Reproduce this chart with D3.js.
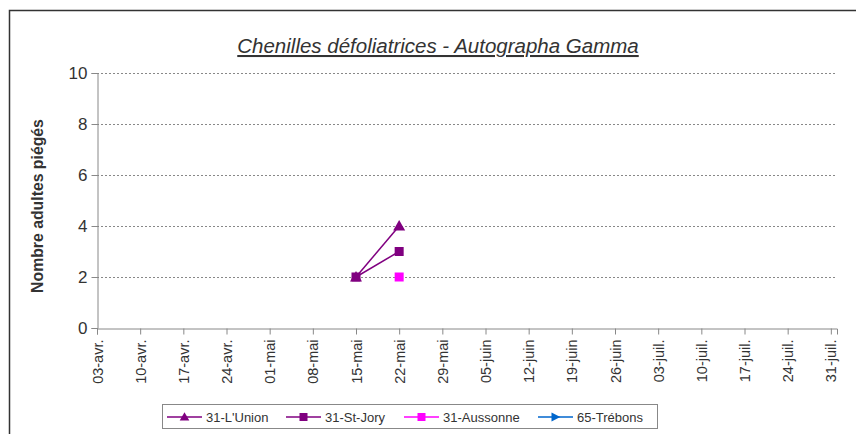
<!DOCTYPE html>
<meta charset="utf-8">
<head>
</head>
<body style="margin:0;background:#fff">
<style>
text { font-family: "Liberation Sans", Arial, sans-serif; fill: #333; }
.grid line { stroke: #888; stroke-dasharray: 2,2; }
.axis path, .axis line { stroke: #888; }
</style>
<svg width="856" height="434"></svg>
<script src="https://cdn.jsdelivr.net/npm/d3@7"></script>
<script>
// data
var ticksDates = ["2011-04-03","2011-04-10","2011-04-17","2011-04-24","2011-05-01","2011-05-08","2011-05-15",
  "2011-05-22","2011-05-29","2011-06-05","2011-06-12","2011-06-19","2011-06-26","2011-07-03","2011-07-10",
  "2011-07-17","2011-07-24","2011-07-31"];
var tickLabels = ["03-avr.","10-avr.","17-avr.","24-avr.","01-mai","08-mai","15-mai","22-mai","29-mai",
  "05-juin","12-juin","19-juin","26-juin","03-juil.","10-juil.","17-juil.","24-juil.","31-juil."];
var lunionDates = ["2011-05-15","2011-05-22"];
var lunionVals = [2, 4];
var stjoryDates = ["2011-05-15","2011-05-22"];
var stjoryVals = [2, 3];
var aussonneDates = ["2011-05-22"];
var aussonneVals = [2];
var trebonsDates = [];
var trebonsVals = [];
var yTicks = [0, 2, 4, 6, 8, 10];

var parse = d3.timeParse("%Y-%m-%d");
function pts(ds, vs) { return ds.map(function(d, i) { return {date: parse(d), v: vs[i]}; }); }

var series = [
  {name: "31-L'Union", color: "#800080", marker: "triangle", data: pts(lunionDates, lunionVals)},
  {name: "31-St-Jory", color: "#800080", marker: "square", data: pts(stjoryDates, stjoryVals)},
  {name: "31-Aussonne", color: "#ff00ff", marker: "square", data: pts(aussonneDates, aussonneVals)},
  {name: "65-Trébons", color: "#0066cc", marker: "arrow", data: pts(trebonsDates, trebonsVals)}
];

var svg = d3.select("svg");
var plotL = 97, plotR = 837, plotT = 73, plotB = 328;

// outer frame
svg.append("rect").attr("x", 9.5).attr("y", 10.5).attr("width", 900).attr("height", 500)
  .attr("fill", "none").attr("stroke", "#333").attr("stroke-width", 1.5);

var x = d3.scaleTime().domain([parse("2011-04-03"), parse("2011-08-01")]).range([plotL, plotR]);
var y = d3.scaleLinear().domain([0, 10]).range([plotB, plotT]);

// gridlines
svg.append("g").attr("class", "grid").selectAll("line")
  .data(yTicks.filter(function(d) { return d > 0; }))
  .enter().append("line")
  .attr("x1", plotL).attr("x2", plotR)
  .attr("y1", function(d) { return y(d) + 0.5; }).attr("y2", function(d) { return y(d) + 0.5; });

// y axis
var yAxis = svg.append("g").attr("class", "axis").attr("transform", "translate(" + (plotL + 0.5) + ",0)")
  .call(d3.axisLeft(y).tickValues(yTicks).tickSize(6).tickPadding(4));
yAxis.selectAll("text").style("font-size", "17px").attr("fill", "#333");

// x axis
var xAxis = svg.append("g").attr("class", "axis").attr("transform", "translate(0," + (plotB + 0.5) + ")")
  .call(d3.axisBottom(x).tickValues(ticksDates.map(parse)).tickSize(6)
    .tickFormat(function(d, i) { return tickLabels[i]; }));
xAxis.selectAll("text")
  .style("font-size", "14.5px").attr("fill", "#333")
  .attr("text-anchor", "end")
  .attr("transform", "rotate(-90)")
  .attr("x", -11).attr("y", 0).attr("dy", "0.35em");

// axis titles
svg.append("text")
  .attr("transform", "translate(43,206) rotate(-90)")
  .attr("text-anchor", "middle")
  .style("font-size", "15.8px").style("font-weight", "bold")
  .text("Nombre adultes piégés");

svg.append("text")
  .attr("x", 438).attr("y", 53)
  .attr("text-anchor", "middle")
  .style("font-size", "20.5px").style("font-style", "italic")
  .style("text-decoration", "underline")
  .text("Chenilles défoliatrices - Autographa Gamma");

function drawMarker(g, type, cx, cy, s, color) {
  if (type === "square") {
    g.append("rect").attr("x", cx - s / 2).attr("y", cy - s / 2).attr("width", s).attr("height", s).attr("fill", color);
  } else if (type === "triangle") {
    g.append("path").attr("d", "M" + cx + "," + (cy - s * 0.6) + "L" + (cx + s * 0.6) + "," + (cy + s * 0.45) +
      "L" + (cx - s * 0.6) + "," + (cy + s * 0.45) + "Z").attr("fill", color);
  } else {
    g.append("path").attr("d", "M" + (cx - s * 0.5) + "," + (cy - s * 0.55) + "L" + (cx + s * 0.6) + "," + cy +
      "L" + (cx - s * 0.5) + "," + (cy + s * 0.55) + "Z").attr("fill", color);
  }
}

var line = d3.line().x(function(d) { return x(d.date); }).y(function(d) { return y(d.v); });

series.slice().reverse().forEach(function(s) {
  var g = svg.append("g");
  if (s.data.length > 1) {
    g.append("path").datum(s.data).attr("d", line)
      .attr("fill", "none").attr("stroke", s.color).attr("stroke-width", 1.5);
  }
  s.data.forEach(function(d) {
    drawMarker(g, s.marker, x(d.date), y(d.v), s.marker === "triangle" ? 10 : 9, s.color);
  });
});

// legend
var legend = svg.append("g");
legend.append("rect").attr("x", 162.5).attr("y", 404.5).attr("width", 495).attr("height", 24)
  .attr("fill", "#fff").attr("stroke", "#888").attr("stroke-width", 1);
var legX = [167, 286, 404, 538];
series.forEach(function(s, i) {
  var g = legend.append("g");
  g.append("line").attr("x1", legX[i]).attr("x2", legX[i] + 35).attr("y1", 417).attr("y2", 417)
    .attr("stroke", s.color).attr("stroke-width", 1.5);
  drawMarker(g, s.marker, legX[i] + 17.5, 417, 8, s.color);
  g.append("text").attr("x", legX[i] + 39).attr("y", 417).attr("dy", "0.35em")
    .style("font-size", "13px").text(s.name);
});
</script>
</body>
